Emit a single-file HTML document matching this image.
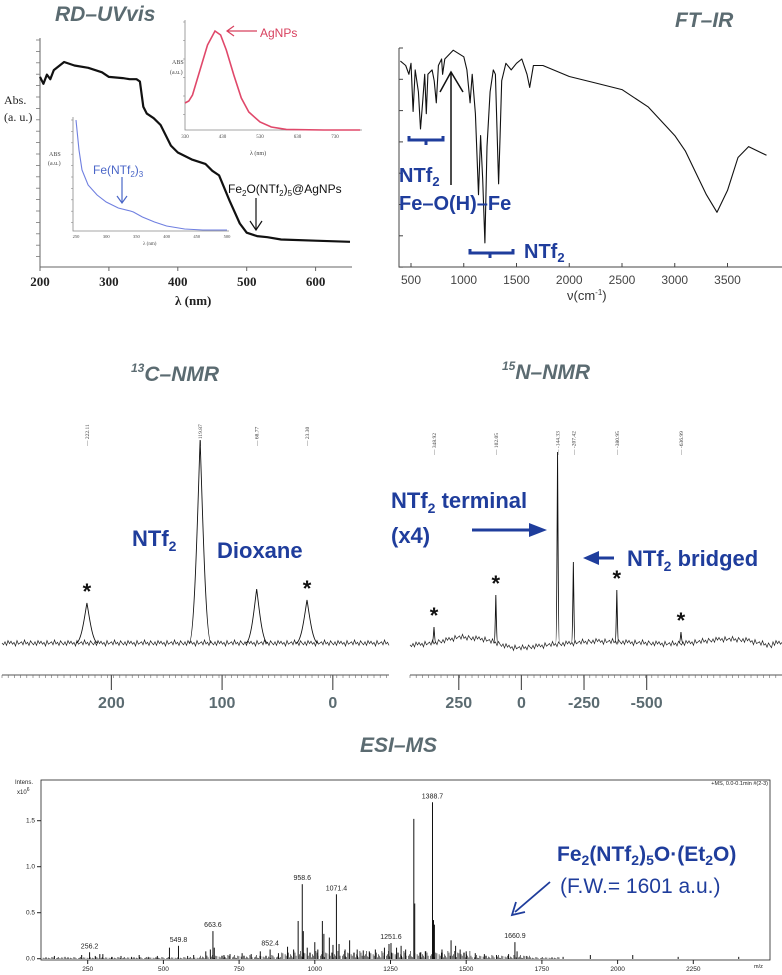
<!DOCTYPE html>
<html><head><meta charset="utf-8">
<style>
html,body{margin:0;padding:0;background:#fff;}
svg{display:block;}
.ttl{font-family:"Liberation Sans",sans-serif;font-style:italic;font-weight:bold;font-size:21px;fill:#5b6b71;}
.blue{font-family:"Liberation Sans",sans-serif;font-weight:bold;fill:#1f3d9c;}
.ser{font-family:"Liberation Serif",serif;}
.sans{font-family:"Liberation Sans",sans-serif;}
</style></head>
<body>
<svg id="fig" width="782" height="975" viewBox="0 0 782 975" xmlns="http://www.w3.org/2000/svg">
<text class="ttl" x="55" y="21">RD–UVvis</text>
<text class="ttl" x="675" y="27">FT–IR</text>
<text class="ttl" x="131" y="381"><tspan font-size="12" dy="-9">13</tspan><tspan dy="9">C–NMR</tspan></text>
<text class="ttl" x="502" y="379"><tspan font-size="12" dy="-9">15</tspan><tspan dy="9">N–NMR</tspan></text>
<text class="ttl" x="360" y="752">ESI–MS</text>

<g id="uv"></g>
<g id="ir"></g>
<g id="c13"></g>
<g id="n15"></g>
<g id="ms"></g>

<text class="ser" x="4" y="104" font-size="12" fill="#222">Abs.</text>
<text class="ser" x="4" y="121" font-size="12" fill="#222">(a. u.)</text>
<text class="ser" x="175" y="305" font-size="13" font-weight="bold" fill="#222">λ (nm)</text>
<text class="ser" x="172" y="64" font-size="6" fill="#444">ABS</text>
<text class="ser" x="170" y="74" font-size="6" fill="#444">(a.u.)</text>
<text class="ser" x="250" y="155" font-size="6" fill="#444">λ (nm)</text>
<text class="sans" x="260" y="37" font-size="12" fill="#d8405e">AgNPs</text>
<line x1="257" y1="31" x2="227" y2="31" stroke="#d8405e" stroke-width="1.2"/>
<polyline points="234,26 227,31 234,36" fill="none" stroke="#d8405e" stroke-width="1.2"/>
<text class="ser" x="49" y="156" font-size="6" fill="#444">ABS</text>
<text class="ser" x="48" y="165" font-size="6" fill="#444">(a.u.)</text>
<text class="ser" x="143" y="245" font-size="5" fill="#444">λ (nm)</text>
<text class="sans" x="93" y="174" font-size="12" fill="#4a66c8">Fe(NTf<tspan font-size="8" dy="3">2</tspan><tspan dy="-3">)</tspan><tspan font-size="8" dy="3">3</tspan></text>
<line x1="122" y1="177" x2="122" y2="203" stroke="#4a66c8" stroke-width="1.2"/>
<polyline points="117,196 122,203 127,196" fill="none" stroke="#4a66c8" stroke-width="1.2"/>
<text class="sans" x="228" y="193" font-size="12" fill="#111">Fe<tspan font-size="8" dy="3">2</tspan><tspan dy="-3">O(NTf</tspan><tspan font-size="8" dy="3">2</tspan><tspan dy="-3">)</tspan><tspan font-size="8" dy="3">5</tspan><tspan dy="-3">@AgNPs</tspan></text>
<line x1="256" y1="198" x2="256" y2="230" stroke="#111" stroke-width="1.2"/>
<polyline points="250,221 256,230 262,221" fill="none" stroke="#111" stroke-width="1.2"/>

<path d="M409,136 v4 h34 v-4 M426,140 v5" fill="none" stroke="#1f3d9c" stroke-width="3"/>
<text class="blue" x="399" y="182" font-size="20">NTf<tspan font-size="13" dy="4">2</tspan></text>
<text class="blue" x="399" y="210" font-size="20">Fe–O(H)–Fe</text>
<line x1="451" y1="185" x2="451" y2="72" stroke="#111" stroke-width="1.5"/>
<polyline points="440,92 451,72 463,92" fill="none" stroke="#111" stroke-width="1.5"/>
<path d="M470,249 v4 h43 v-4 M490,253 v5" fill="none" stroke="#1f3d9c" stroke-width="3"/>
<text class="blue" x="524" y="258" font-size="20">NTf<tspan font-size="13" dy="4">2</tspan></text>
<text class="sans" x="567" y="300" font-size="13" fill="#333">ν(cm<tspan font-size="8" dy="-5">-1</tspan><tspan dy="5">)</tspan></text>

<text class="blue" x="132" y="546" font-size="22">NTf<tspan font-size="14" dy="5">2</tspan></text>
<text class="blue" x="217" y="558" font-size="22">Dioxane</text>

<text class="blue" x="391" y="508" font-size="22">NTf<tspan font-size="14" dy="5">2</tspan><tspan dy="-5"> terminal</tspan></text>
<text class="blue" x="391" y="543" font-size="22">(x4)</text>
<line x1="472" y1="530" x2="532" y2="530" stroke="#1f3d9c" stroke-width="3"/>
<polygon points="529,523 547,530 529,537" fill="#1f3d9c"/>
<text class="blue" x="627" y="566" font-size="22">NTf<tspan font-size="14" dy="5">2</tspan><tspan dy="-5"> bridged</tspan></text>
<line x1="614" y1="558" x2="597" y2="558" stroke="#1f3d9c" stroke-width="3"/>
<polygon points="599,551 583,558 599,565" fill="#1f3d9c"/>

<text class="sans" x="15" y="784" font-size="6" fill="#222">Intens.</text>
<text class="sans" x="17" y="794" font-size="6" fill="#222">x10<tspan font-size="5" dy="-3">6</tspan></text>
<text class="sans" x="768" y="785" font-size="5.5" fill="#222" text-anchor="end">+MS, 0.0-0.1min #(2-3)</text>
<text class="sans" x="754" y="968" font-size="5.5" fill="#222">m/z</text>
<text class="blue" x="557" y="861" font-size="21">Fe<tspan font-size="14" dy="4">2</tspan><tspan dy="-4">(NTf</tspan><tspan font-size="14" dy="4">2</tspan><tspan dy="-4">)</tspan><tspan font-size="14" dy="4">5</tspan><tspan dy="-4">O·(Et</tspan><tspan font-size="14" dy="4">2</tspan><tspan dy="-4">O)</tspan></text>
<text class="sans" x="560" y="893" font-size="21" fill="#1f3d9c">(F.W.= 1601 a.u.)</text>
<line x1="550" y1="882" x2="515" y2="912" stroke="#1f3d9c" stroke-width="1.8"/>
<polyline points="516,902 512,915 525,912" fill="none" stroke="#1f3d9c" stroke-width="1.8"/>
</svg>
<script>
const uvNm   = [200,205,210,215,220,235,250,270,290,300,320,330,340,345,350,355,365,375,390,400,420,440,450,460,475,490,500,515,530,550,600,650];
const uvAbs  = [.83,.80,.84,.82,.86,.895,.88,.87,.85,.83,.825,.82,.82,.81,.70,.67,.65,.62,.53,.50,.47,.45,.42,.40,.29,.19,.15,.135,.13,.12,.115,.11];
const uvTicks = [200,300,400,500,600];
const agNm   = [330,340,350,370,390,410,425,440,460,480,500,530,560,600,700,797];
const agAbs  = [.245,.264,.318,.545,.773,.9,.864,.727,.5,.291,.164,.073,.027,.005,0,0];
const agTicks = [330,430,530,630,730];
const feNm   = [250,255,260,270,285,300,320,340,345,360,380,400,430,460,500];
const feAbs  = [.973,.708,.531,.398,.310,.248,.195,.168,.159,.115,.071,.035,.009,0,0];
const feTicks = [250,300,350,400,450,500];
const irWn = [400,450,480,500,520,540,570,590,610,630,645,660,700,720,740,760,790,800,820,900,1000,1030,1060,1080,1110,1140,1160,1180,1200,1220,1250,1280,1300,1330,1345,1360,1400,1450,1500,1550,1600,1625,1660,1750,2000,2250,2500,2750,3000,3100,3200,3300,3400,3500,3600,3700,3870];
const irT  = [94,92,88,93,71,90,80,63,75,88,70,88,90,85,75,92,95,88,95,99,96,90,75,88,70,33,60,40,11,55,80,90,88,38,60,85,93,90,93,95,88,82,92,92,87,84,81,73,60,53,43,33,25,35,50,55,51];
const irTicks = [500,1000,1500,2000,2500,3000,3500];
const c13Ppm = [222.11,119.87,68.77,23.30];
const c13Height = [40,203,54,43];
const c13Labels = ["222.11","119.87","68.77","23.30"];
const c13Ticks = [200,100,0];
const c13Stars = [222.11,23.30];
const n15Ppm = [348.92,102.05,-144.33,-207.42,-380.95,-636.99];
const n15Height = [16,48,191,81,53,11];
const n15Labels = ["348.92","102.05","-144.33","-207.42","-380.95","-636.99"];
const n15Ticks = [250,0,-250,-500];
const n15Stars = [348.92,102.05,-380.95,-636.99];
const n15BasePpm = [450,350,250,150,100,50,0,-100,-200,-300,-400,-500,-600,-700,-800,-900,-1000];
const n15BaseOff = [-2,0,6,4,0,-4,-5,-2,0,2,1,0,-1,1,4,3,-3];
const msMz = [140,175,230,256.2,275,290,300,330,360,395,420,450,480,520,549.8,580,600,640,655,663.6,668,700,720,760,790,820,852.4,880,910,930,945,958.6,962,975,1000,1010,1025,1030,1048,1060,1071.4,1080,1100,1115,1140,1160,1180,1200,1230,1245,1251.6,1270,1285,1300,1327,1330,1350,1365,1388.7,1392,1395,1420,1450,1465,1480,1500,1530,1560,1600,1640,1660.9,1668,1700,1820,1910,2050,2200,2400];
const msInt = [.03,.02,.04,.07,.03,.05,.05,.02,.03,.02,.04,.02,.03,.12,.14,.03,.04,.08,.10,.30,.12,.04,.05,.06,.05,.08,.10,.06,.13,.10,.41,.81,.30,.12,.18,.10,.41,.27,.23,.15,.70,.16,.10,.20,.10,.09,.08,.10,.12,.16,.17,.12,.14,.10,1.52,.60,.07,.08,1.70,.42,.37,.10,.20,.14,.10,.08,.06,.05,.04,.05,.18,.08,.03,.02,.04,.04,.02,.02];
const msLabelMz = [256.2,549.8,663.6,852.4,958.6,1071.4,1251.6,1388.7,1660.9];
const msLabelInt = [.07,.14,.30,.10,.81,.70,.17,1.70,.18];
const msXTicks = [250,500,750,1000,1250,1500,1750,2000,2250];
const msYTicks = [0,0.5,1.0,1.5];
const noisePat = [0,1.5,-1,2,-2,0.5,-1.5,1,-0.5,2.5,-2,1,0,-1,1.5,-2.5,0.8,-0.6,2,-1.8];

const NS="http://www.w3.org/2000/svg";
function mk(parent,tag,attrs,txt){const e=document.createElementNS(NS,tag);for(const k in attrs)e.setAttribute(k,attrs[k]);if(txt!==undefined)e.textContent=txt;parent.appendChild(e);return e;}
function pts(xs,ys,fx,fy){return xs.map((v,i)=>fx(v).toFixed(1)+","+fy(ys[i]).toFixed(1)).join(" ");}

(function(){
 const g=document.getElementById('uv');
 const X=nm=>40+(nm-200)*0.689, Y=a=>267-a*229;
 let e=mk(g,'line',{x1:40,y1:38,x2:40,y2:267,stroke:'#666','stroke-width':1});
 
 
 e=mk(g,'line',{x1:40,y1:267,x2:352,y2:267,stroke:'#666','stroke-width':1});
 
 
 for(let y=40;y<=266;y+=11.4){mk(g,'line',{x1:36,y1:y,x2:40,y2:y,stroke:'#777','stroke-width':0.8});}
 uvTicks.forEach(t=>{mk(g,'line',{x1:X(t),y1:267,x2:X(t),y2:271,stroke:'#666'});
  e=mk(g,'text',{x:X(t),y:286,'text-anchor':'middle','font-size':13,'font-weight':'bold','font-family':'Liberation Serif, serif',fill:'#222'},String(t));
  
  });
 e=mk(g,'polyline',{points:pts(uvNm,uvAbs,X,Y),fill:'none',stroke:'#111','stroke-width':2.2,'stroke-linejoin':'round'});
 
 
 const AX=nm=>185+(nm-330)*0.375, AY=a=>130-a*110;
 mk(g,'path',{d:'M185,20 V130 H362',fill:'none',stroke:'#888','stroke-width':0.8});
 for(let y=22;y<130;y+=18.5)mk(g,'line',{x1:183,y1:y,x2:185,y2:y,stroke:'#888','stroke-width':0.6});
 agTicks.forEach(t=>{e=mk(g,'text',{x:AX(t),y:138,'text-anchor':'middle','font-size':5,'font-family':'Liberation Serif, serif',fill:'#444'},String(t));
  
  });
 e=mk(g,'polyline',{points:pts(agNm,agAbs,AX,AY),fill:'none',stroke:'#e0486a','stroke-width':1.6});
 
 
 const FX=nm=>76+(nm-250)*0.604, FY=a=>230-a*113;
 mk(g,'path',{d:'M73,117 V231 H229',fill:'none',stroke:'#888','stroke-width':0.8});
 for(let y=120;y<230;y+=11.4)mk(g,'line',{x1:71,y1:y,x2:73,y2:y,stroke:'#888','stroke-width':0.6});
 feTicks.forEach(t=>{e=mk(g,'text',{x:FX(t),y:238,'text-anchor':'middle','font-size':4.5,'font-family':'Liberation Serif, serif',fill:'#444'},String(t));
  
  });
 e=mk(g,'polyline',{points:pts(feNm,feAbs,FX,FY),fill:'none',stroke:'#6f7fe0','stroke-width':1.1});
 
 
})();

(function(){
 const g=document.getElementById('ir');
 const X=w=>411+(w-500)*0.1055, Y=t=>267-t*2.19;
 let e=mk(g,'path',{d:'M399,48 V267 H782',fill:'none',stroke:'#444','stroke-width':1});
 
 
 for(let i=0;i<8;i++){const y=48+i*31.3;mk(g,'line',{x1:399,y1:y,x2:403,y2:y,stroke:'#444'});}
 irTicks.forEach(t=>{mk(g,'line',{x1:X(t),y1:267,x2:X(t),y2:263,stroke:'#444'});
  e=mk(g,'text',{x:X(t),y:284,'text-anchor':'middle','font-size':12,'font-family':'Liberation Sans, sans-serif',fill:'#444'},String(t));
  
  });
 e=mk(g,'polyline',{points:pts(irWn,irT,X,Y),fill:'none',stroke:'#111','stroke-width':1.1,'stroke-linejoin':'round'});
 
 
})();

function nmr(gid,ppms,hts,labs,ticks,stars,X,xmin,xmax,axisL,axisR,hw,labY,name,baseFn){
 const g=document.getElementById(gid);
 const base=643;
 let d=[];let k=0;
 for(let x=xmin;x<=xmax;x+=1.5){
  let y=base+baseFn(x)+noisePat[k%noisePat.length]*1.2;k++;
  d.push(x.toFixed(1)+","+y.toFixed(1));
 }
 let e=mk(g,'polyline',{points:d.join(" "),fill:'none',stroke:'#222','stroke-width':0.7});
 
 
 ppms.forEach((p,i)=>{
  const cx=X(p),top=base-hts[i];
  e=mk(g,'path',{d:`M${cx-hw*2},${base} C${cx-hw},${base} ${cx-hw*0.4},${top+hts[i]*0.3} ${cx},${top} C${cx+hw*0.4},${top+hts[i]*0.3} ${cx+hw},${base} ${cx+hw*2},${base}`,fill:'none',stroke:'#111','stroke-width':0.9});
  
  
  e=mk(g,'text',{x:0,y:0,'font-size':5.5,'font-family':'Liberation Serif, serif',fill:'#333',transform:`translate(${cx+2},${labY}) rotate(-90)`},'— '+labs[i]);
  
  
 });
 stars.forEach(p=>{
  const i=ppms.indexOf(p);
  e=mk(g,'text',{x:X(p),y:base-hts[i]-4,'text-anchor':'middle','font-size':22,'font-weight':'bold','font-family':'Liberation Sans, sans-serif',fill:'#111'},'*');
  
  
 });
 e=mk(g,'line',{x1:axisL,y1:675,x2:axisR,y2:675,stroke:'#555','stroke-width':1});
 
 
 for(let x=axisL;x<=axisR;x+=6.2)mk(g,'line',{x1:x,y1:675,x2:x,y2:678,stroke:'#666','stroke-width':0.6});
 ticks.forEach(t=>{mk(g,'line',{x1:X(t),y1:675,x2:X(t),y2:690,stroke:'#555','stroke-width':1.2});
  e=mk(g,'text',{x:X(t),y:708,'text-anchor':'middle','font-size':16,'font-weight':'bold','font-family':'Liberation Sans, sans-serif',fill:'#5b6b71'},String(t));
  
  });
}
const CX=p=>332.8-p*1.107;
nmr('c13',c13Ppm,c13Height,c13Labels,c13Ticks,c13Stars,CX,2,389,2,389,5.5,446,'c13',x=>0);
const NX=p=>521.4-p*0.2505;
function n15base(x){const p=(521.4-x)/0.2505;for(let i=0;i<n15BasePpm.length-1;i++){const a=n15BasePpm[i],b=n15BasePpm[i+1];if(p<=a&&p>=b){const t=(a-p)/(a-b);return n15BaseOff[i]*(1-t)+n15BaseOff[i+1]*t;}}return 0;}
nmr('n15',n15Ppm,n15Height,n15Labels,n15Ticks,n15Stars,NX,410,782,410,782,0.9,455,'n15',x=>-n15base(x));

(function(){
 const g=document.getElementById('ms');
 const X=m=>12+m*0.3028, Y=v=>958.7-v*92;
 let e=mk(g,'rect',{x:41,y:780,width:729,height:180,fill:'none',stroke:'#222','stroke-width':0.8});
 
 
 msYTicks.forEach(t=>{mk(g,'line',{x1:37,y1:Y(t),x2:41,y2:Y(t),stroke:'#222'});
  e=mk(g,'text',{x:35,y:Y(t)+2,'text-anchor':'end','font-size':6.5,'font-family':'Liberation Sans, sans-serif',fill:'#222'},t.toFixed(1));
  
  });
 msXTicks.forEach(t=>{mk(g,'line',{x1:X(t),y1:960,x2:X(t),y2:964,stroke:'#222'});
  e=mk(g,'text',{x:X(t),y:971,'text-anchor':'middle','font-size':6.5,'font-family':'Liberation Sans, sans-serif',fill:'#222'},String(t));
  
  });
 let k=0,d="";
 for(let x=42;x<560;x+=1.1){const f=(x>280&&x<470)?3.2:((x>200&&x<530)?1.6:0.8);const h=Math.abs(noisePat[k%noisePat.length])*f;k++;d+=`M${x.toFixed(1)},959V${(959-h).toFixed(1)}`;}
 e=mk(g,'path',{d:d,stroke:'#111','stroke-width':0.6,fill:'none'});
 
 
 msMz.forEach((m,i)=>{e=mk(g,'line',{x1:X(m),y1:959,x2:X(m),y2:Y(msInt[i]),stroke:'#111','stroke-width':1});
  
  });
 msLabelMz.forEach((m,i)=>{e=mk(g,'text',{x:X(m),y:Y(msLabelInt[i])-4,'text-anchor':'middle','font-size':7,'font-family':'Liberation Sans, sans-serif',fill:'#222'},String(m));
  
  });
})();
</script>
</body></html>
